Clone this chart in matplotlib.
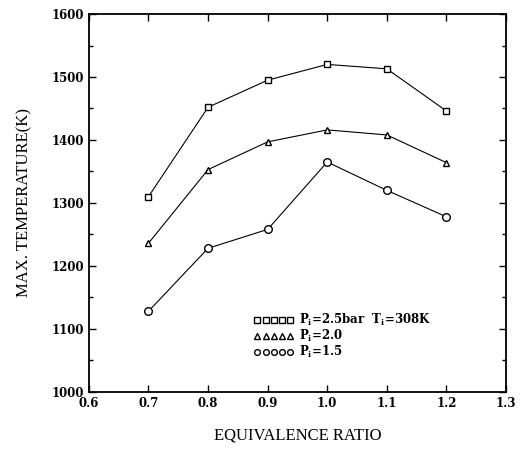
import numpy as np
import matplotlib.pyplot as plt
from matplotlib.ticker import MultipleLocator

ratio = [0.7, 0.8, 0.9, 1.0, 1.1, 1.2]
temp_25 = [1310, 1452, 1495, 1520, 1513, 1446]
temp_20 = [1236, 1353, 1397, 1416, 1408, 1364]
temp_15 = [1128, 1228, 1258, 1365, 1320, 1278]

labels = ['P$_\\mathregular{i}$=2.5bar  T$_\\mathregular{i}$=308K',
          'P$_\\mathregular{i}$=2.0',
          'P$_\\mathregular{i}$=1.5']

fig = plt.figure(figsize=(5.26, 4.53), dpi=100)
ax = fig.add_axes([0.169, 0.135, 0.793, 0.834])

ax.plot(ratio, temp_25, 'k-', marker='s', mfc='white', mec='black', ms=5, lw=0.8, label=labels[0])
ax.plot(ratio, temp_20, 'k-', marker='^', mfc='white', mec='black', ms=5, lw=0.8, label=labels[1])
ax.plot(ratio, temp_15, 'k-', marker='o', mfc='white', mec='black', ms=5.5, lw=0.8, label=labels[2])

ax.set_xlim(0.6, 1.3)
ax.set_ylim(1000, 1600)
ax.yaxis.set_major_locator(MultipleLocator(100))
ax.yaxis.set_minor_locator(MultipleLocator(50))
ax.tick_params(which='both', direction='in', top=True, right=True, width=1)
ax.tick_params(which='major', length=5)
ax.tick_params(which='minor', length=3)
ax.set_xticks(np.arange(0.6, 1.31, 0.1))
ax.set_xticklabels(['0.6', '0.7', '0.8', '0.9', '1.0', '1.1', '1.2', '1.3'],
                   fontfamily='DejaVu Serif', fontweight='bold', fontsize=8.5)
for lab in ax.get_yticklabels():
    lab.set_fontfamily('DejaVu Serif')
    lab.set_fontweight('bold')
    lab.set_fontsize(8.5)
for s in ax.spines.values():
    s.set_linewidth(1.3)

ax.set_xlabel('EQUIVALENCE RATIO', fontfamily='Liberation Serif', fontsize=12, labelpad=13)
ax.set_ylabel('MAX. TEMPERATURE(K)', fontfamily='Liberation Serif', fontsize=12, labelpad=14)

leg = ax.legend(loc='lower left', bbox_to_anchor=(0.37, 0.055), frameon=False,
                numpoints=5, markerscale=0.75, handlelength=3.4, handletextpad=0.4,
                labelspacing=0.0, prop={'family': 'DejaVu Serif', 'weight': 'bold', 'size': 8.5})
for h in leg.legend_handles:
    h.set_linestyle('none')

fig.savefig('out.png', dpi=100)
